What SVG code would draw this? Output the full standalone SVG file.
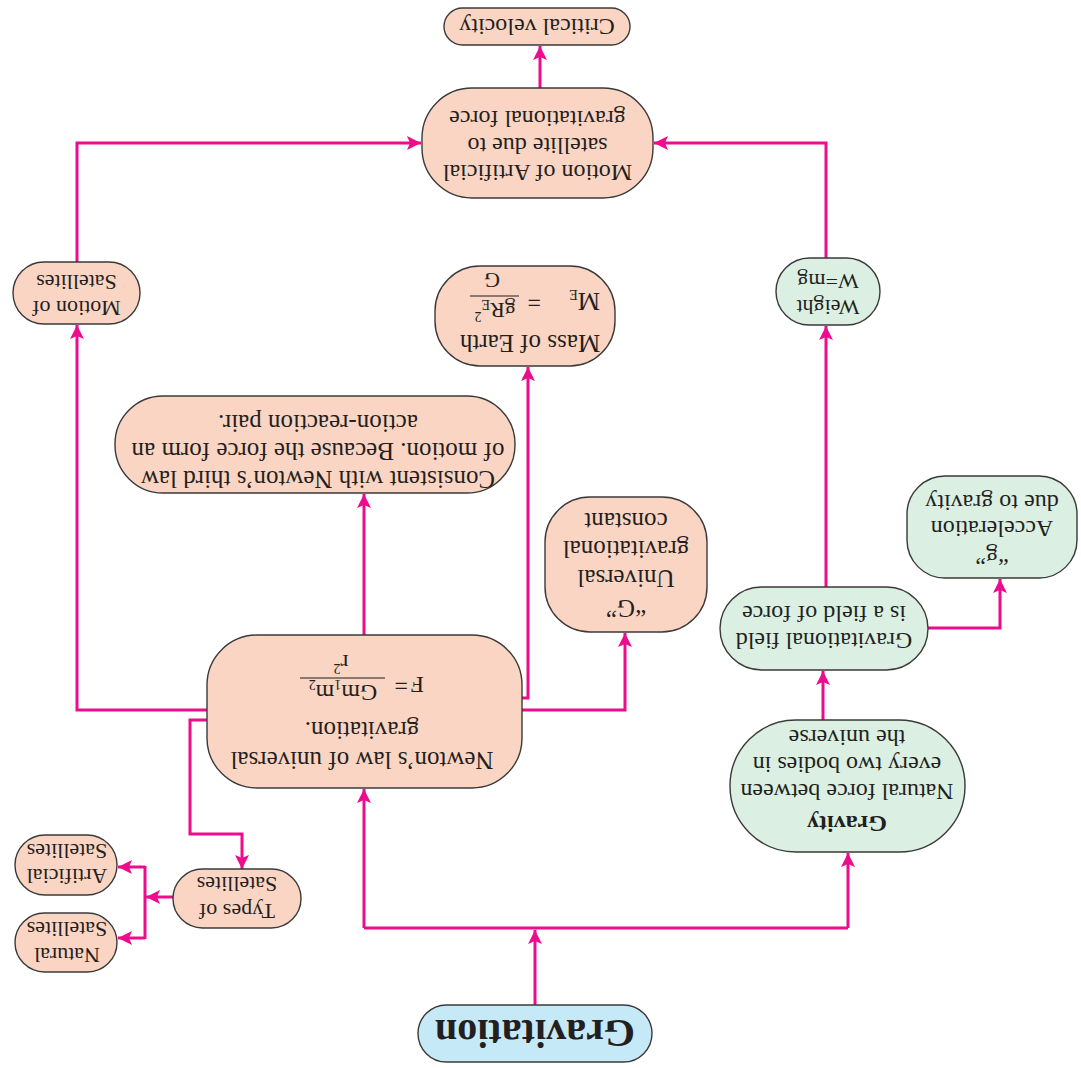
<svg xmlns="http://www.w3.org/2000/svg" width="1081" height="1068" viewBox="0 0 1081 1068">
<defs>
<style>
.pe{fill:#fbd5c3;stroke:#3a3a3a;stroke-width:1.4}
.gr{fill:#dcefe3;stroke:#3a3a3a;stroke-width:1.4}
.bl{fill:#c6e9f8;stroke:#3a3a3a;stroke-width:1.4}
text{font-family:"Liberation Serif","Times New Roman",serif;font-size:24px;fill:#231f20;text-anchor:middle}
.sm{font-size:22px}
.st{font-size:14px}
.cn{fill:none;stroke:#ec0c8c;stroke-width:3}
.fl{stroke:#231f20;stroke-width:1.2}
</style>
<marker id="ah" viewBox="0 0 14 14" refX="14" refY="7" markerWidth="14" markerHeight="14" orient="auto" markerUnits="userSpaceOnUse">
<path d="M0,0 L14,7 L0,14 L3,7 z" fill="#ec0c8c"/>
</marker>
</defs>
<rect width="1081" height="1068" fill="#ffffff"/>
<g transform="rotate(180 540.5 534)">
<g id="connectors">
<path class="cn" d="M546 63 V138" marker-end="url(#ah)"/>
<path class="cn" d="M233 140 H717"/>
<path class="cn" d="M233 140 V215" marker-end="url(#ah)"/>
<path class="cn" d="M717 140 V279" marker-end="url(#ah)"/>
<path class="cn" d="M258 348 V397" marker-end="url(#ah)"/>
<path class="cn" d="M153 440 H81 V489" marker-end="url(#ah)"/>
<path class="cn" d="M255 481 V742" marker-end="url(#ah)"/>
<path class="cn" d="M255 810 V925 H427" marker-end="url(#ah)"/>
<path class="cn" d="M1004 806 V925 H660" marker-end="url(#ah)"/>
<path class="cn" d="M541 980 V1022" marker-end="url(#ah)"/>
<path class="cn" d="M874 358 H1004 V743" marker-end="url(#ah)"/>
<path class="cn" d="M874 348 H891 V234 H839 V199" marker-end="url(#ah)"/>
<path class="cn" d="M717 433 V574" marker-end="url(#ah)"/>
<path class="cn" d="M559 370 H553 V701" marker-end="url(#ah)"/>
<path class="cn" d="M559 358 H456 V435" marker-end="url(#ah)"/>
<path class="cn" d="M908 171 H935" marker-end="url(#ah)"/>
<path class="cn" d="M936 129 V202"/>
<path class="cn" d="M936 201 H963" marker-end="url(#ah)"/>
<path class="cn" d="M936 130 H963" marker-end="url(#ah)"/>
</g>
<g id="gravitation">
<rect class="bl" x="429" y="6" width="234" height="57" rx="28.5"/>
<text x="546" y="48" style="font-size:40px;font-weight:bold">Gravitation</text>
</g>
<g id="gravity">
<rect class="gr" x="116" y="216" width="235" height="132" rx="66"/>
<text x="234" y="252" style="font-weight:bold">Gravity</text>
<text x="234" y="284">Natural force between</text>
<text x="234" y="311">every two bodies in</text>
<text x="234" y="338">the universe</text>
</g>
<g id="newton">
<rect class="pe" x="559" y="280" width="315" height="153" rx="50"/>
<text x="719" y="316" style="font-size:25px">Newton’s law of universal</text>
<text x="719" y="346" style="font-size:25px">gravitation.</text>
<text x="657" y="391" style="text-anchor:start">F</text>
<text x="673" y="390" style="text-anchor:start">=</text>
<line class="fl" x1="696" y1="390" x2="781" y2="390"/>
<text x="738" y="383">Gm<tspan class="st" dy="5">1</tspan><tspan dy="-5">m</tspan><tspan class="st" dy="5">2</tspan></text>
<text x="740" y="413">r<tspan class="st" dy="-9">2</tspan></text>
</g>
<g id="field">
<rect class="gr" x="153" y="398" width="208" height="83" rx="41.5"/>
<text x="257" y="435">Gravitational field</text>
<text x="257" y="462">is a field of force</text>
</g>
<g id="g-accel">
<rect class="gr" x="4" y="490" width="170" height="102" rx="38"/>
<text x="89" y="519">“g”</text>
<text x="89" y="547">Acceleration</text>
<text x="89" y="573">due to gravity</text>
</g>
<g id="weight">
<rect class="gr" x="201" y="743" width="104" height="67" rx="33.5"/>
<text class="sm" x="253" y="768">Weight</text>
<text class="sm" x="253" y="794">W=mg</text>
</g>
<g id="motion-artificial">
<rect class="pe" x="428" y="870" width="231" height="110" rx="50"/>
<text x="543.5" y="903">Motion of Artificial</text>
<text x="543.5" y="930">satellite due to</text>
<text x="543.5" y="957">gravitational force</text>
</g>
<g id="critical">
<rect class="pe" x="451" y="1023" width="186" height="37" rx="18.5"/>
<text x="544" y="1049">Critical velocity</text>
</g>
<g id="motion-satellites">
<rect class="pe" x="941" y="744" width="127" height="62" rx="31"/>
<text class="sm" x="1004.5" y="767">Motion of</text>
<text class="sm" x="1004.5" y="793">Satellites</text>
</g>
<g id="mass-earth">
<rect class="pe" x="466" y="702" width="180" height="100" rx="45"/>
<text x="551" y="733" style="font-size:25px">Mass of Earth</text>
<text x="481" y="775" style="text-anchor:start;font-size:25px">M<tspan class="st" dy="3">E</tspan></text>
<text x="540" y="773" style="text-anchor:start">=</text>
<line class="fl" x1="562" y1="772" x2="611" y2="772"/>
<text x="586" y="765" style="font-size:22px">gR<tspan class="st" dy="3">E</tspan><tspan class="st" dy="-12">2</tspan></text>
<text x="589" y="795" style="font-size:22px">G</text>
</g>
<g id="universal-g">
<rect class="pe" x="374" y="436" width="162" height="135" rx="45"/>
<text x="455" y="468" style="font-size:25px">“G”</text>
<text x="455" y="498" style="font-size:25px">Universal</text>
<text x="455" y="527" style="font-size:25px">gravitational</text>
<text x="455" y="555" style="font-size:25px">constant</text>
</g>
<g id="consistent">
<rect class="pe" x="566" y="575" width="400" height="97" rx="48"/>
<text x="763" y="597" style="font-size:25px">Consistent with Newton’s third law</text>
<text x="763" y="625" style="font-size:25px">of motion. Because the force form an</text>
<text x="763" y="653" style="font-size:25px">action-reaction pair.</text>
</g>
<g id="types">
<rect class="pe" x="780" y="140" width="128" height="59" rx="29.5"/>
<text class="sm" x="844" y="164">Types of</text>
<text class="sm" x="844" y="191">Satellites</text>
</g>
<g id="artificial">
<rect class="pe" x="964" y="173" width="102" height="60" rx="30"/>
<text class="sm" x="1014" y="199">Artificial</text>
<text class="sm" x="1014" y="224">Satellites</text>
</g>
<g id="natural">
<rect class="pe" x="964" y="96" width="102" height="59" rx="29.5"/>
<text class="sm" x="1014" y="120">Natural</text>
<text class="sm" x="1014" y="146">Satellites</text>
</g>
</g>
</svg>
